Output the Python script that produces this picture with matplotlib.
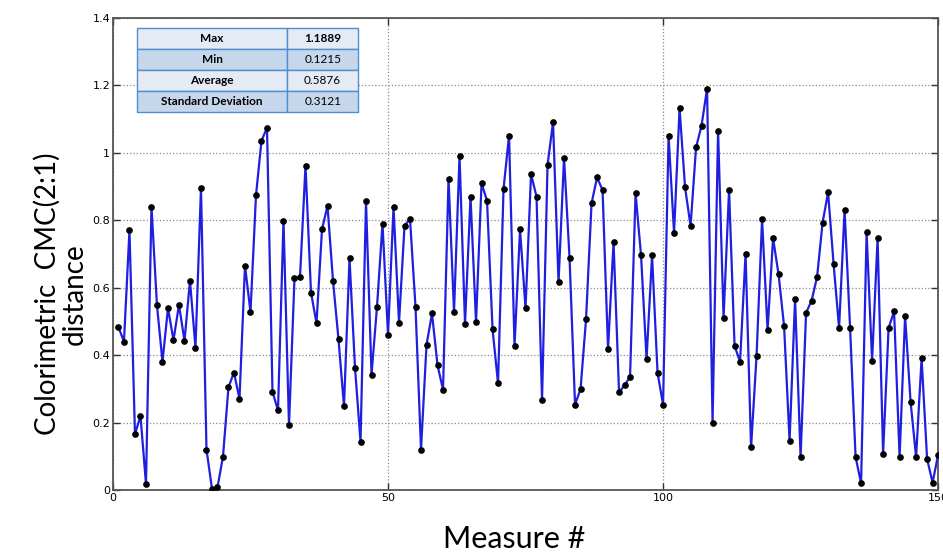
import numpy as np
import matplotlib
matplotlib.use("Agg")
import matplotlib.pyplot as plt

# distance values for measures 1..150
distance = [
    0.482, 0.44, 0.77, 0.165, 0.22, 0.018, 0.84, 0.547, 0.38, 0.539,
    0.444, 0.549, 0.442, 0.62, 0.422, 0.895, 0.12, 0.004, 0.008, 0.099,
    0.305, 0.348, 0.27, 0.665, 0.527, 0.873, 1.035, 1.073, 0.291, 0.236,
    0.797, 0.192, 0.628, 0.630, 0.961, 0.585, 0.494, 0.772, 0.842, 0.620,
    0.446, 0.248, 0.686, 0.362, 0.143, 0.855, 0.342, 0.543, 0.789, 0.46,
    0.838, 0.496, 0.783, 0.803, 0.542, 0.12, 0.43, 0.523, 0.37, 0.297,
    0.922, 0.528, 0.99, 0.492, 0.869, 0.497, 0.909, 0.857, 0.477, 0.316,
    0.892, 1.05, 0.427, 0.772, 0.538, 0.936, 0.869, 0.266, 0.963, 1.09,
    0.615, 0.985, 0.688, 0.253, 0.299, 0.506, 0.849, 0.926, 0.889, 0.417,
    0.735, 0.289, 0.311, 0.335, 0.879, 0.695, 0.388, 0.695, 0.347, 0.253,
    1.05, 0.761, 1.131, 0.897, 0.782, 1.015, 1.08, 1.189, 0.2, 1.065,
    0.511, 0.889, 0.427, 0.38, 0.70, 0.126, 0.398, 0.802, 0.474, 0.746,
    0.639, 0.486, 0.145, 0.567, 0.098, 0.525, 0.561, 0.631, 0.792, 0.882,
    0.67, 0.48, 0.829, 0.48, 0.098, 0.02, 0.763, 0.383, 0.746, 0.108,
    0.48, 0.529, 0.098, 0.515, 0.261, 0.098, 0.39, 0.092, 0.022, 0.104,
]
measure = np.arange(1, len(distance) + 1)

stat_names = ["Max", "Min", "Average", "Standard Deviation"]
stat_values = ["1.1889", "0.1215", "0.5876", "0.3121"]

xticks = [0, 50, 100, 150]
yticks = [0, 0.2, 0.4, 0.6, 0.8, 1.0, 1.2, 1.4]
ytick_labels = ["0", "0.2", "0.4", "0.6", "0.8", "1", "1.2", "1.4"]

fig = plt.figure(figsize=(9.43, 5.56), dpi=100)
ax = fig.add_axes([0.1198, 0.1187, 0.875, 0.8498])

ax.plot(measure, distance, color="#1f1fe0", linewidth=1.6, zorder=3)
ax.plot(measure, distance, linestyle="none", marker="o", markersize=3.8,
        color="black", zorder=4)

ax.set_xlim(0, 150)
ax.set_ylim(0, 1.4)
ax.set_xticks(xticks)
ax.set_yticks(yticks)
ax.set_yticklabels(ytick_labels)
ax.tick_params(direction="in", top=True, right=True, length=5, width=1,
               labelsize=8, pad=2, colors="#333333", labelcolor="black")
ax.grid(True, linestyle=":", color="#8a8a8a", linewidth=0.9)
for sp in ax.spines.values():
    sp.set_color("#555555")
    sp.set_linewidth(1.3)

ax.set_xlabel("Measure #", fontfamily="Lato", fontsize=22)
ax.xaxis.set_label_coords(0.486, -0.075)
ax.set_ylabel("Colorimetric  CMC(2:1)\ndistance", fontfamily="Lato",
              fontsize=20, linespacing=1.05)
ax.yaxis.set_label_coords(-0.031, 0.415)

# statistics table in the upper-left corner
cell_text = [[n, v] for n, v in zip(stat_names, stat_values)]
tbl = ax.table(cellText=cell_text, cellLoc="center",
               bbox=[0.029, 0.80, 0.268, 0.178], zorder=5)
tbl.auto_set_font_size(False)
light, dark = "#e4ebf5", "#c6d6eb"
for (r, c), cell in tbl.get_celld().items():
    cell.set_facecolor(light if r % 2 == 0 else dark)
    cell.set_edgecolor("#4f8fd0")
    cell.set_linewidth(1.0)
    txt = cell.get_text()
    txt.set_fontfamily("Lato")
    txt.set_fontsize(8.5)
    if c == 0 or r == 0:
        txt.set_fontweight("bold")
w_total = 0.268
for (r, c), cell in tbl.get_celld().items():
    cell.set_width(w_total * (0.68 if c == 0 else 0.32))

fig.savefig("out.png", dpi=100)
